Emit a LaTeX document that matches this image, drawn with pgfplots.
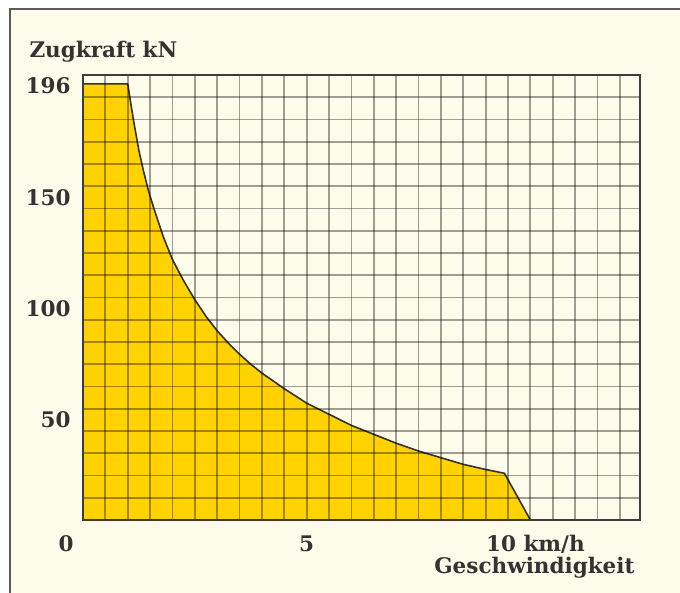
\documentclass[border=0pt]{standalone}
\usepackage{fontspec}
\setmainfont{DejaVu Serif}
\usepackage{pgfplots}
\pgfplotsset{compat=1.18}
\definecolor{creamc}{HTML}{FDFBEA}
\definecolor{yellowc}{HTML}{FFD200}
\definecolor{linec}{HTML}{333333}
\definecolor{axisc}{HTML}{3C3C3C}
\definecolor{framec}{HTML}{5A5A5A}
\newcommand{\labfont}{\fontsize{21.5}{24}\selectfont\bfseries}
\begin{document}
\begin{tikzpicture}
\useasboundingbox (0,0) rectangle (680pt,593pt);
\fill[white] (0,0) rectangle (680pt,593pt);
\fill[creamc] (10pt,0) rectangle (680pt,584pt);
\draw[framec, line width=1.8pt] (10pt,0) -- (10pt,584pt) -- (680pt,584pt);
\begin{axis}[
  at={(83pt,73pt)}, anchor=south west,
  scale only axis, width=557pt, height=445pt,
  xmin=0, xmax=12.45, ymin=0, ymax=200,
  axis line style={line width=1.9pt, color=axisc},
  major tick length=0pt, minor tick length=0pt,
  /pgf/number format/assume math mode=true,
  xtick={5,10}, xticklabels={5,{\hspace*{10pt}10 km/h}},
  ytick={50,100,150},
  extra x ticks={0}, extra x tick labels={0},
  extra x tick style={grid=none, xticklabel style={xshift=-17pt}},
  extra y ticks={196}, extra y tick labels={196},
  extra y tick style={grid=none, yticklabel style={yshift=9pt}},
  minor xtick={0.5,1,1.5,2,2.5,3,3.5,4,4.5,5,5.5,6,6.5,7,7.5,8,8.5,9,9.5,10,10.5,11,11.5,12},
  minor ytick={10,20,30,40,50,60,70,80,90,100,110,120,130,140,150,160,170,180,190},
  grid=minor,
  minor grid style={black, opacity=0.37, line width=1.8pt},
  axis on top,
  tick label style={font=\labfont, text=black!80},
  xticklabel style={yshift=-12pt},
  yticklabel style={xshift=-9pt, yshift=-11pt},
  clip=false,
]
\addplot[fill=yellowc, draw=linec, line width=1.6pt, line join=round] coordinates {
  (0,0) (0,196) (1.0,196) (1.07,187) (1.13,179.5) (1.25,166) (1.35,157) (1.47,147.5) (1.6,139) (1.8,127)
  (2.0,117) (2.25,107.5) (2.5,99) (2.75,91.5) (3.0,85) (3.25,79.5) (3.5,74.5)
  (3.75,70) (4.0,66) (4.5,59) (5.0,52.5) (5.5,47.5) (6.0,42.5) (6.5,38.5)
  (7.0,34.5) (7.5,31) (8.0,28) (8.5,25) (9.0,22.7) (9.42,21) (10.0,0)
} \closedcycle;
\node[font=\labfont, text=black!80, anchor=west] at (rel axis cs:0,1) [xshift=-57pt, yshift=23pt] {Zugkraft kN};
\node[font=\labfont, text=black!80, anchor=east] at (rel axis cs:1,0) [xshift=-2pt, yshift=-48pt] {Geschwindigkeit};
\end{axis}
\end{tikzpicture}
\end{document}
